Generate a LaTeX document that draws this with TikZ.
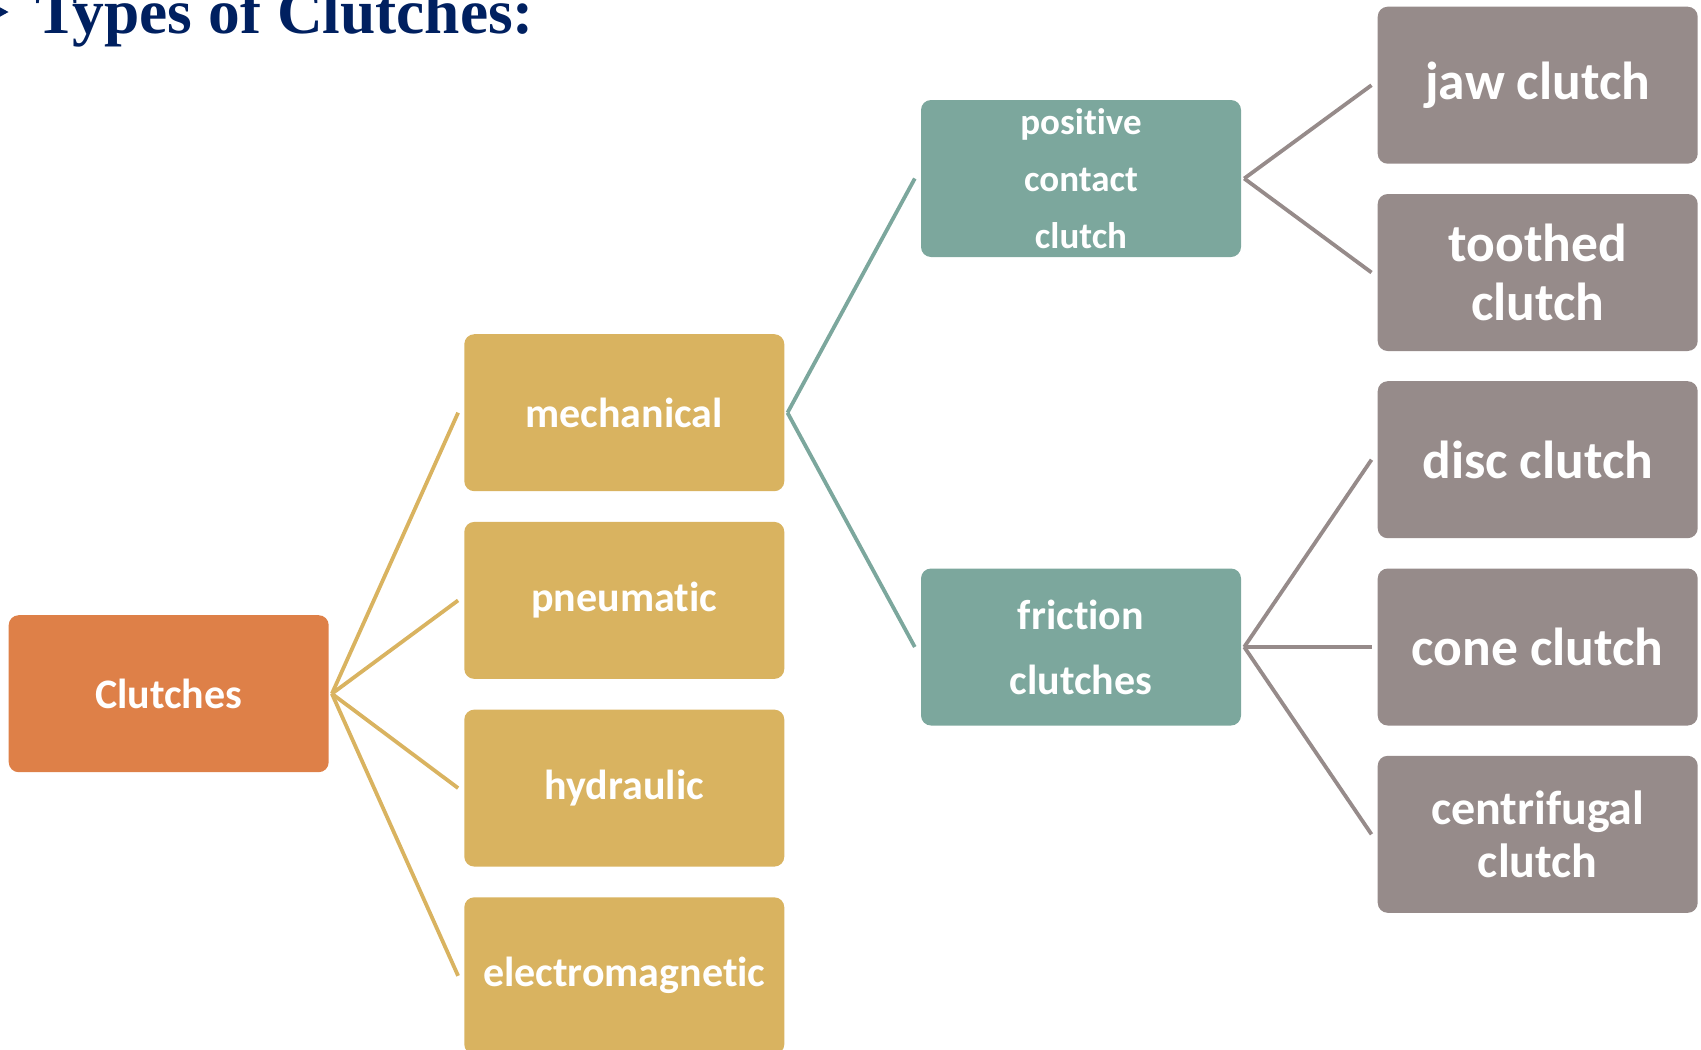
\documentclass[tikz,border=0pt]{standalone}
\usepackage{fontspec}
\setmainfont{Carlito}[RawFeature={-liga;-clig;-rlig;-calt;-dlig}]
\newfontfamily\titlefont{Liberation Serif}
\definecolor{cOrange}{RGB}{222,128,72}
\definecolor{cGold}{RGB}{217,179,96}
\definecolor{cTeal}{RGB}{124,167,157}
\definecolor{cGray}{RGB}{150,139,138}
\definecolor{cNavy}{RGB}{0,32,96}
\begin{document}
\begin{tikzpicture}[x=1pt,y=-1pt,
  box/.style={rounded corners=10pt, minimum width=320pt, minimum height=157pt,
    text=white, align=center, inner sep=0pt},
  rootbox/.style={box, fill=cOrange, font=\fontsize{42}{50}\selectfont\bfseries},
  goldbox/.style={box, fill=cGold, font=\fontsize{42}{50}\selectfont\bfseries},
  tealbox/.style={box, fill=cTeal},
  graybox/.style={box, fill=cGray, font=\fontsize{53.5}{59.5}\selectfont\bfseries},
  link/.style={line width=3.8pt},
  goldlink/.style={link, draw=cGold},
  teallink/.style={link, draw=cTeal},
  graylink/.style={link, draw=cGray}]
\useasboundingbox (0,0) rectangle (1701,1050);
\clip (0,0) rectangle (1701,1050);
% title
\fill[cNavy] (-7,3.5) -- (8.5,12) -- (-7,20.5) -- cycle;
\node[anchor=base west, inner sep=0pt, text=cNavy, font=\titlefont\fontsize{63.4}{70}\selectfont\bfseries] (title) at (35,33) {Types of Clutches:};
% nodes
\node[rootbox] (cl) at (168.7,693.7) {Clutches};
\node[goldbox] (mech) at (624.3,412.7) {mechanical};
\node[goldbox] (pneu) at (624.3,600.4) {pneumatic};
\node[goldbox] (hyd) at (624.3,788.1) {hydraulic};
\node[goldbox] (elec) at (624.3,975.8) {electromagnetic};
\node[tealbox, font=\fontsize{37}{57}\selectfont\bfseries] (pos) at (1081,178.5) {positive\\contact\\clutch};
\node[tealbox, font=\fontsize{42}{65}\selectfont\bfseries] (fric) at (1081,647) {friction\\clutches};
\node[graybox] (jaw) at (1537.7,85.2) {jaw clutch};
\node[graybox] (tooth) at (1537.7,272.5) {toothed\\clutch};
\node[graybox] (disc) at (1537.7,459.7) {disc clutch};
\node[graybox] (cone) at (1537.7,647) {cone clutch};
\node[graybox, font=\fontsize{48}{53}\selectfont\bfseries] (centri) at (1537.7,834.3) {centrifugal\\clutch};
% connectors
\foreach \t in {mech,pneu,hyd,elec}
  \draw[goldlink] ([xshift=3pt]cl.east) -- ([xshift=-6pt]\t.west);
\foreach \t in {pos,fric}
  \draw[teallink] ([xshift=3pt]mech.east) -- ([xshift=-6pt]\t.west);
\foreach \t in {jaw,tooth}
  \draw[graylink] ([xshift=3pt]pos.east) -- ([xshift=-6pt]\t.west);
\foreach \t in {disc,cone,centri}
  \draw[graylink] ([xshift=3pt]fric.east) -- ([xshift=-6pt]\t.west);
\end{tikzpicture}
\end{document}
